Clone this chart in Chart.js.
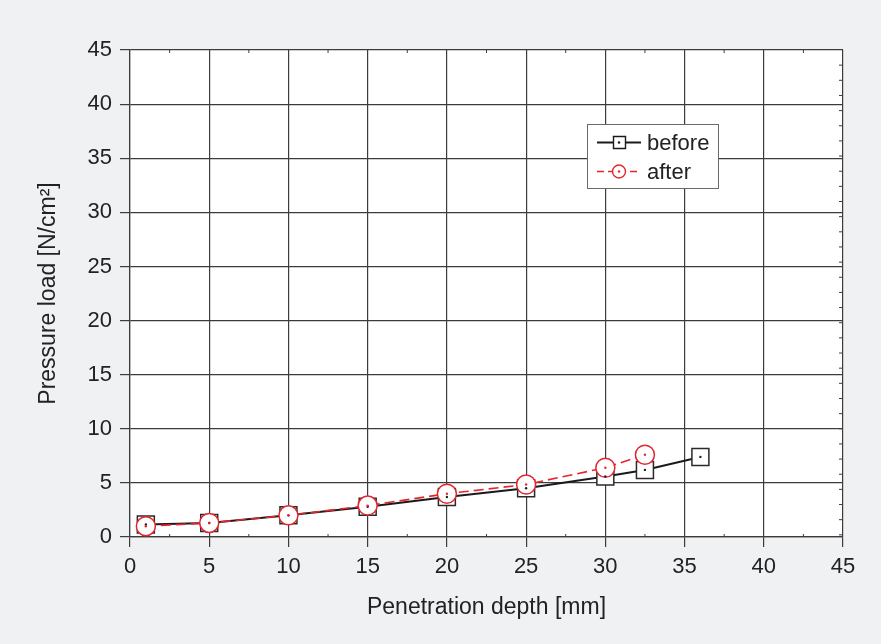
<!DOCTYPE html>
<html>
<head>
<meta charset="utf-8">
<script src="https://cdn.jsdelivr.net/npm/chart.js@4"></script>
<style>
  html, body { margin: 0; padding: 0; background: #f0f1f3; }
  #wrap { width: 881px; height: 644px; }
</style>
</head>
<body>
<div id="wrap"><canvas id="pressureChart" width="881" height="644"></canvas></div>
<script>
// 측정값 (depth mm / load N/cm2)
const beforeX = [1, 5, 10, 15, 20, 25, 30, 32.5, 36];
const beforeY = [1.15, 1.3, 2.0, 2.8, 3.7, 4.5, 5.6, 6.2, 7.4];
const afterX = [1, 5, 10, 15, 20, 25, 30, 32.5];
const afterY = [1.0, 1.3, 2.0, 2.9, 4.0, 4.85, 6.4, 7.6];
const xTicks = [0, 5, 10, 15, 20, 25, 30, 35, 40, 45];
const yTicks = [0, 5, 10, 15, 20, 25, 30, 35, 40, 45];
const seriesNames = ['before', 'after'];

const RED = '#e3262d';
const GRID = '#3c3c3c';
const FONT = "'Liberation Sans', Arial, Helvetica, sans-serif";

const toPoints = (xs, ys) => xs.map((x, i) => ({ x: x, y: ys[i] }));

// 배경 + 흰색 플롯 영역
const background = {
  id: 'background',
  beforeDraw(chart) {
    const { ctx, chartArea: a } = chart;
    ctx.save();
    ctx.fillStyle = '#f0f1f3';
    ctx.fillRect(0, 0, chart.width, chart.height);
    ctx.fillStyle = '#ffffff';
    ctx.fillRect(a.left, a.top, a.right - a.left, a.bottom - a.top);
    ctx.restore();
  }
};

// 안쪽 보조 눈금
const minorTicks = {
  id: 'minorTicks',
  afterDraw(chart) {
    const { ctx, chartArea: a, scales } = chart;
    ctx.save();
    ctx.strokeStyle = GRID;
    ctx.lineWidth = 1;
    ctx.beginPath();
    for (let v = 2.5; v < 45; v += 5) {
      const px = scales.x.getPixelForValue(v);
      ctx.moveTo(px, a.bottom); ctx.lineTo(px, a.bottom - 3);
      ctx.moveTo(px, a.top); ctx.lineTo(px, a.top + 3);
    }
    for (let v = 45 - 1.4; v > 0; v -= 1.4) {
      const py = scales.y.getPixelForValue(v);
      ctx.moveTo(a.right, py); ctx.lineTo(a.right - 4, py);
    }
    ctx.stroke();
    ctx.restore();
  }
};

// 마커 가운데 점
const centerDots = {
  id: 'centerDots',
  afterDatasetsDraw(chart) {
    const { ctx } = chart;
    ctx.save();
    chart.data.datasets.forEach((ds, i) => {
      const meta = chart.getDatasetMeta(i);
      ctx.fillStyle = i === 0 ? '#222' : RED;
      meta.data.forEach(p => {
        ctx.beginPath();
        ctx.arc(p.x, p.y, 1.2, 0, Math.PI * 2);
        ctx.fill();
      });
    });
    ctx.restore();
  }
};

// 범례 박스
const legendBox = {
  id: 'legendBox',
  afterDraw(chart) {
    const { ctx } = chart;
    const x0 = 587, y0 = 124, w = 131, h = 64;
    ctx.save();
    ctx.fillStyle = '#fff';
    ctx.fillRect(x0, y0, w, h);
    ctx.strokeStyle = '#6a6a6a';
    ctx.lineWidth = 1;
    ctx.strokeRect(x0 + 0.5, y0 + 0.5, w, h);
    const rows = [
      { y: 142.5, color: '#1a1a1a', dash: [], shape: 'rect' },
      { y: 171.5, color: RED, dash: [7, 4], shape: 'circle' }
    ];
    rows.forEach((r, i) => {
      ctx.strokeStyle = r.color;
      ctx.lineWidth = i === 0 ? 2 : 1.6;
      ctx.setLineDash(r.dash);
      ctx.beginPath();
      ctx.moveTo(597, r.y); ctx.lineTo(641, r.y);
      ctx.stroke();
      ctx.setLineDash([]);
      ctx.fillStyle = '#fff';
      ctx.lineWidth = 1.4;
      ctx.beginPath();
      if (r.shape === 'rect') ctx.rect(613.5, r.y - 6, 12, 12);
      else ctx.arc(619, r.y, 6.5, 0, Math.PI * 2);
      ctx.fill(); ctx.stroke();
      ctx.fillStyle = r.color;
      ctx.beginPath(); ctx.arc(619, r.y, 1.2, 0, Math.PI * 2); ctx.fill();
      ctx.fillStyle = '#222';
      ctx.font = '22px ' + FONT;
      ctx.textBaseline = 'middle';
      ctx.fillText(seriesNames[i], 647, r.y + 1);
    });
    ctx.restore();
  }
};

const ctx = document.getElementById('pressureChart').getContext('2d');
new Chart(ctx, {
  type: 'line',
  data: {
    datasets: [
      {
        label: seriesNames[0],
        data: toPoints(beforeX, beforeY),
        borderColor: '#1a1a1a',
        borderWidth: 2,
        pointStyle: 'rect',
        pointRadius: 12,
        pointBorderWidth: 1.5,
        pointBorderColor: '#2a2a2a',
        pointBackgroundColor: '#ffffff',
        tension: 0,
        order: 2,
        clip: false
      },
      {
        label: seriesNames[1],
        data: toPoints(afterX, afterY),
        borderColor: RED,
        borderWidth: 1.6,
        borderDash: [10, 5],
        pointStyle: 'circle',
        pointRadius: 9.5,
        pointBorderWidth: 1.5,
        pointBorderColor: RED,
        pointBackgroundColor: '#ffffff',
        tension: 0,
        order: 1,
        clip: false
      }
    ]
  },
  options: {
    responsive: false,
    animation: false,
    layout: { padding: { left: 0, right: 38, top: 50, bottom: 0 } },
    plugins: {
      legend: { display: false },
      tooltip: { enabled: false }
    },
    scales: {
      x: {
        type: 'linear',
        min: 0,
        max: 45,
        afterFit(scale) { scale.height = 107; },
        afterBuildTicks(scale) { scale.ticks = xTicks.map(v => ({ value: v })); },
        grid: { color: GRID, lineWidth: 1.2, tickLength: 10, tickColor: GRID },
        border: { color: GRID, width: 1.2 },
        ticks: { color: '#222', padding: 7, font: { family: FONT, size: 22 } },
        title: {
          display: true,
          text: 'Penetration depth [mm]',
          color: '#222',
          font: { family: FONT, size: 23 },
          padding: { top: 0, bottom: 23 }
        }
      },
      y: {
        type: 'linear',
        min: 0,
        max: 45,
        afterFit(scale) { scale.width = 130; },
        afterBuildTicks(scale) { scale.ticks = yTicks.map(v => ({ value: v })); },
        grid: { color: GRID, lineWidth: 1.2, tickLength: 10, tickColor: GRID },
        border: { color: GRID, width: 1.2 },
        ticks: { color: '#222', padding: 8, font: { family: FONT, size: 22 } },
        title: {
          display: true,
          text: 'Pressure load [N/cm²]',
          color: '#222',
          font: { family: FONT, size: 23 },
          padding: { top: 35, bottom: 0 }
        }
      }
    }
  },
  plugins: [background, minorTicks, centerDots, legendBox]
});
</script>
</body>
</html>
